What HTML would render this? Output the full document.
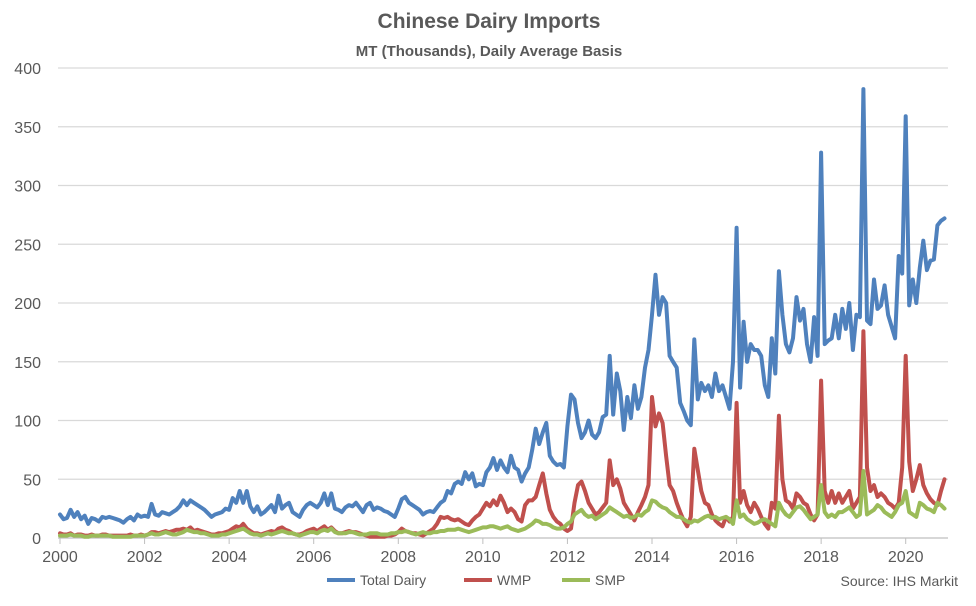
<!DOCTYPE html>
<html><head><meta charset="utf-8"><style>
body{margin:0;background:#fff;font-family:"Liberation Sans",sans-serif;}
</style></head><body>
<svg id="chart" width="976" height="601" xmlns="http://www.w3.org/2000/svg">
<text x="489" y="28" text-anchor="middle" font-size="21" font-weight="bold" fill="#595959">Chinese Dairy Imports</text>
<text x="489" y="56" text-anchor="middle" font-size="15" font-weight="bold" fill="#595959">MT (Thousands), Daily Average Basis</text>
<g id="grid"></g><g id="axes"></g><g id="series"></g>
<g>
<line x1="327" y1="580" x2="355" y2="580" stroke="#4f81bd" stroke-width="4"/>
<text x="360" y="585" font-size="14" fill="#595959">Total Dairy</text>
<line x1="464" y1="580" x2="492" y2="580" stroke="#c0504d" stroke-width="4"/>
<text x="497" y="585" font-size="14" fill="#595959">WMP</text>
<line x1="562" y1="580" x2="590" y2="580" stroke="#9bbb59" stroke-width="4"/>
<text x="595" y="585" font-size="14" fill="#595959">SMP</text>
</g>
<text x="958" y="586" text-anchor="end" font-size="14" fill="#595959">Source: IHS Markit</text>
</svg>
<script>
const yTicks=[0,50,100,150,200,250,300,350,400];
const xTicks=[2000,2002,2004,2006,2008,2010,2012,2014,2016,2018,2020];
const startYear=2000;
const totalDairy=[20,16,17,24,18,22,16,19,12,17,16,14,18,17,18,17,16,15,13,16,18,15,20,18,19,18,29,20,19,22,21,20,22,24,27,32,28,32,30,28,26,24,21,18,20,21,22,25,24,34,30,40,30,40,27,22,27,20,22,25,28,22,36,25,28,30,22,20,18,24,28,30,28,26,30,38,28,38,25,24,22,26,28,27,30,26,22,28,30,24,26,25,23,22,20,18,25,33,35,30,28,26,24,20,22,23,22,26,30,32,40,38,46,48,46,56,50,55,44,46,45,56,60,68,58,66,60,56,70,60,58,48,55,60,75,93,80,90,98,70,65,62,63,60,95,122,118,98,85,90,100,88,85,90,103,105,155,105,140,125,92,120,102,130,110,120,145,160,190,224,190,205,200,155,150,145,115,108,100,96,169,118,132,125,130,120,140,125,130,120,110,150,264,128,184,150,165,160,160,155,130,120,170,140,227,190,165,158,170,205,185,195,165,150,188,155,328,165,168,170,190,170,195,178,200,160,190,188,382,185,182,220,195,198,215,190,180,170,240,225,359,198,220,200,230,253,228,236,237,266,270,272];
const wmp=[4,3,3,4,2,3,3,2,2,3,2,2,3,3,2,2,2,2,2,2,3,2,2,3,2,3,5,5,4,5,6,5,6,7,7,8,7,9,6,7,6,5,4,3,3,4,4,5,6,8,10,9,12,8,6,4,4,3,4,5,6,5,8,9,7,6,4,3,3,4,6,7,8,6,8,10,7,9,6,4,4,5,6,5,5,4,3,2,1,1,1,1,1,2,2,3,5,8,6,5,4,4,3,2,4,6,8,12,18,17,18,16,15,16,14,12,11,15,18,20,25,30,27,32,28,36,30,22,25,22,16,14,28,32,32,35,45,55,38,24,18,14,12,8,6,8,30,45,48,40,30,25,20,22,26,30,66,45,50,42,30,25,20,15,22,28,35,45,120,95,106,98,70,45,40,30,22,15,10,18,76,58,40,30,28,20,15,12,10,18,14,18,115,30,40,28,22,30,25,18,12,8,30,25,104,50,32,30,25,38,35,30,28,20,15,20,134,40,30,40,30,38,30,35,40,25,30,35,176,60,40,45,35,38,35,30,28,25,30,60,155,65,40,50,62,45,38,33,30,28,40,50];
const smp=[2,2,2,3,2,2,2,1,1,2,2,2,2,2,2,1,1,1,1,1,1,2,2,2,2,3,4,3,3,4,5,4,3,3,4,5,7,6,5,5,4,4,3,2,2,2,3,3,4,5,6,7,8,6,4,3,3,2,3,4,3,4,5,6,5,4,4,3,2,3,4,5,5,4,6,7,6,8,5,4,4,4,5,5,4,3,3,3,4,4,4,3,3,3,4,4,5,5,6,5,4,3,4,5,4,4,5,5,6,6,7,7,7,8,7,6,5,6,7,8,9,9,10,10,9,8,9,10,8,7,6,7,8,10,12,15,14,12,12,11,9,8,8,9,12,14,20,22,24,20,18,19,16,18,20,22,26,24,22,20,18,19,17,18,20,19,22,24,32,31,28,26,25,22,20,18,18,16,14,13,15,14,16,18,19,17,18,16,17,18,16,12,32,18,20,16,14,12,13,15,16,14,12,10,30,24,20,18,22,26,27,24,20,16,18,20,45,22,18,20,18,22,22,24,26,22,18,20,57,20,22,24,28,26,22,20,18,22,28,30,40,22,20,18,30,28,25,24,22,30,28,25];
const NS="http://www.w3.org/2000/svg";
const X0=60,X1=948,Y0=538,Y1=68;
function xScale(t){return X0+(t-startYear)*(X1-X0)/21;}
function yScale(v){return Y0-v*(Y0-Y1)/400;}
const grid=document.getElementById('grid'),axes=document.getElementById('axes'),ser=document.getElementById('series');
yTicks.forEach(v=>{
  const l=document.createElementNS(NS,'line');
  l.setAttribute('x1',X0-2);l.setAttribute('x2',X1);l.setAttribute('y1',yScale(v));l.setAttribute('y2',yScale(v));
  l.setAttribute('stroke',v===0?'#bfbfbf':'#d9d9d9');l.setAttribute('stroke-width','1.3');
  
  
  grid.appendChild(l);
  const t=document.createElementNS(NS,'text');
  t.setAttribute('x',41);t.setAttribute('y',yScale(v)+6);t.setAttribute('text-anchor','end');
  t.setAttribute('font-size','16');t.setAttribute('fill','#595959');t.textContent=v;
  
  
  axes.appendChild(t);
});
xTicks.forEach(y=>{
  const x=xScale(y);
  const l=document.createElementNS(NS,'line');
  l.setAttribute('x1',x);l.setAttribute('x2',x);l.setAttribute('y1',Y0);l.setAttribute('y2',Y0+6);
  l.setAttribute('stroke','#bfbfbf');
  
  
  axes.appendChild(l);
  const t=document.createElementNS(NS,'text');
  t.setAttribute('x',x);t.setAttribute('y',Y0+24);t.setAttribute('text-anchor','middle');
  t.setAttribute('font-size','16');t.setAttribute('fill','#595959');t.textContent=y;
  
  
  axes.appendChild(t);
});
function draw(arr,color,name){
  const pts=arr.map((v,i)=>xScale(startYear+i/12).toFixed(1)+','+yScale(v).toFixed(1)).join(' ');
  const p=document.createElementNS(NS,'polyline');
  p.setAttribute('points',pts);p.setAttribute('fill','none');p.setAttribute('stroke',color);
  p.setAttribute('stroke-width','4');p.setAttribute('stroke-linejoin','round');p.setAttribute('stroke-linecap','round');
  
  
  ser.appendChild(p);
}
draw(totalDairy,'#4f81bd','total-dairy-line');
draw(wmp,'#c0504d','wmp-line');
draw(smp,'#9bbb59','smp-line');
</script>
</body></html>
